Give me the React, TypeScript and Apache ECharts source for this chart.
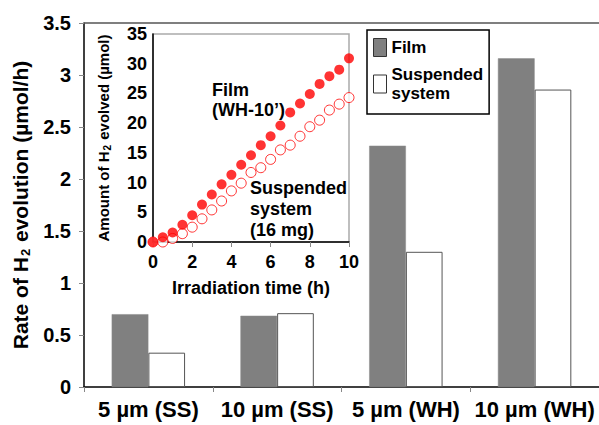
import React, { useEffect, useRef } from "react";
import * as echarts from "echarts";

const categories = ["5 µm (SS)", "10 µm (SS)", "5 µm (WH)", "10 µm (WH)"];
const filmRates = [0.70, 0.685, 2.32, 3.16];
const suspendedRates = [0.33, 0.71, 1.30, 2.86];
const rateTicks = { min: 0, max: 3.5, interval: 0.5 };

const times = [0, 0.5, 1, 1.5, 2, 2.5, 3, 3.5, 4, 4.5, 5, 5.5, 6, 6.5, 7, 7.5, 8, 8.5, 9, 9.5, 10];
const filmAmount = [0, 0.8, 1.6, 2.9, 4.5, 6.3, 8.0, 9.7, 11.3, 13.0, 14.6, 16.3, 17.8, 19.6, 21.8, 23.3, 24.9, 26.6, 27.9, 29.0, 30.9];
const suspendedAmount = [0, 0.0, 0.6, 1.4, 2.5, 3.9, 5.4, 6.9, 8.6, 9.9, 11.7, 12.5, 13.9, 15.5, 16.3, 17.8, 19.4, 20.5, 22.2, 23.2, 24.3];

const FONT = '"Liberation Sans", Arial, sans-serif';

export default function App() {
  const ref = useRef<HTMLDivElement>(null);
  useEffect(() => {
    if (!ref.current) return;
    const chart = echarts.init(ref.current, null, { renderer: "svg" });
    const bold = { fontFamily: FONT, fontWeight: "bold" as const, color: "#000" };
    chart.setOption({
      animation: false,
      backgroundColor: "#fff",
      textStyle: { fontFamily: FONT },
      grid: [
        { left: 84, top: 23, width: 518, bottom: 38, containLabel: false },
        {
          left: 153, top: 34, right: 250, bottom: 183,
          show: true, backgroundColor: "#fff", borderColor: "#aaa", borderWidth: 1.5, z: 3,
        },
      ],
      xAxis: [
        {
          type: "category", gridIndex: 0, data: categories,
          axisLine: { lineStyle: { color: "#000", width: 1.5 } },
          axisTick: { show: true, length: 5, lineStyle: { color: "#888" } },
          axisLabel: { ...bold, fontSize: 22, margin: 11, interval: 0 },
        },
        {
          type: "value", gridIndex: 1, min: 0, max: 10, interval: 2,
          splitLine: { show: false },
          axisLine: { lineStyle: { color: "#000", width: 1.5 } },
          axisTick: { show: true, length: 5, lineStyle: { color: "#888" } },
          axisLabel: { ...bold, fontSize: 18, margin: 11 },
          name: "Irradiation time (h)", nameLocation: "middle", nameGap: 37,
          nameTextStyle: { ...bold, fontSize: 18 },
          z: 4,
        },
      ],
      yAxis: [
        {
          type: "value", gridIndex: 0, ...rateTicks,
          splitLine: { show: false },
          axisLine: { show: true, lineStyle: { color: "#000", width: 1.5 } },
          axisTick: { show: true, length: 5, lineStyle: { color: "#888" } },
          axisLabel: { ...bold, fontSize: 20, margin: 13 },
          name: "Rate of H{sub|2} evolution (µmol/h)", nameLocation: "middle", nameGap: 50,
          nameTextStyle: {
            ...bold, fontSize: 21,
            rich: { sub: { ...bold, fontSize: 13, padding: [10, 1, 0, 1] } },
          },
        },
        {
          type: "value", gridIndex: 1, min: 0, max: 35, interval: 5,
          splitLine: { show: false },
          axisLine: { show: true, lineStyle: { color: "#000", width: 1.5 } },
          axisTick: { show: false },
          axisLabel: { ...bold, fontSize: 18, margin: 6 },
          name: "Amount of H{sub|2} evolved (µmol)", nameLocation: "middle", nameGap: 41,
          nameTextStyle: {
            ...bold, fontSize: 15,
            rich: { sub: { ...bold, fontSize: 10, padding: [7, 1, 0, 1] } },
          },
          z: 4,
        },
      ],
      legend: {
        orient: "vertical", left: 367, top: 30,
        padding: [8, 6, 11, 6], itemGap: 8,
        itemWidth: 13, itemHeight: 18,
        borderColor: "#000", borderWidth: 1.5, backgroundColor: "#fff",
        textStyle: { ...bold, fontSize: 17, lineHeight: 19 },
        selectedMode: false,
        data: [
          { name: "Film", icon: "rect", itemStyle: { color: "#808080", borderColor: "#333", borderWidth: 1 } },
          { name: "Suspended\nsystem", icon: "rect", itemStyle: { color: "#fff", borderColor: "#333", borderWidth: 1 } },
        ],
      },
      graphic: [
        {
          type: "line", z: 10,
          shape: { x1: 84, y1: 23, x2: 599, y2: 23 },
          style: { stroke: "#555", lineWidth: 1.5 },
        },
        {
          type: "text", left: 212, top: 80, z: 20,
          style: { text: "Film\n(WH-10’)", font: `bold 18px ${FONT}`, fill: "#000", lineHeight: 20 },
        },
        {
          type: "text", left: 250, top: 177, z: 20,
          style: { text: "Suspended\nsystem\n(16 mg)", font: `bold 18px ${FONT}`, fill: "#000", lineHeight: 21 },
        },
      ],
      series: [
        {
          name: "Film", type: "bar", xAxisIndex: 0, yAxisIndex: 0,
          data: filmRates, barGap: "0%", barCategoryGap: "43%",
          itemStyle: { color: "#808080", borderColor: "#8a8a8a", borderWidth: 0.5 },
        },
        {
          name: "Suspended\nsystem", type: "bar", xAxisIndex: 0, yAxisIndex: 0,
          data: suspendedRates, barGap: "0%", barCategoryGap: "43%",
          itemStyle: { color: "#fff", borderColor: "#555", borderWidth: 1 },
        },
        {
          name: "Suspended amount", type: "scatter", xAxisIndex: 1, yAxisIndex: 1,
          data: times.map((t, i) => [t, suspendedAmount[i]]),
          symbol: "circle", symbolSize: 10, z: 5,
          itemStyle: { color: "#fff", borderColor: "#ff0000", borderWidth: 1 },
        },
        {
          name: "Film amount", type: "scatter", xAxisIndex: 1, yAxisIndex: 1,
          data: times.map((t, i) => [t, filmAmount[i]]),
          symbol: "circle", symbolSize: 10, z: 6,
          itemStyle: { color: "#ff0000" },
        },
      ],
    });
    return () => chart.dispose();
  }, []);
  return <div ref={ref} style={{ width: 599, height: 425, position: "absolute", left: 0, top: 0 }} />;
}
